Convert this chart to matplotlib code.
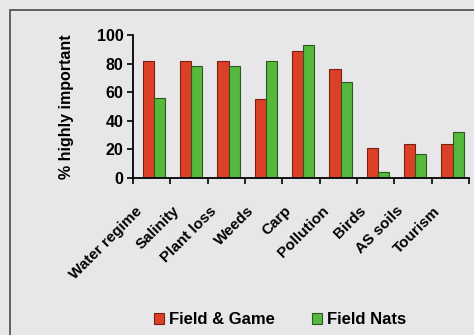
import matplotlib
matplotlib.use('Agg')
import matplotlib.pyplot as plt
import matplotlib.transforms as mtransforms
import numpy as np
from matplotlib.patches import Rectangle

# values
categories = ["Water regime", "Salinity", "Plant loss", "Weeds", "Carp",
              "Pollution", "Birds", "AS soils", "Tourism"]
field_game = [82, 82, 82, 55, 89, 76, 21, 24, 24]
field_nats = [56, 78, 78, 82, 93, 67, 4, 17, 32]
y_ticks = [0, 20, 40, 60, 80, 100]

plt.rcParams['font.family'] = ['Liberation Sans', 'DejaVu Sans']
plt.rcParams['font.weight'] = 'bold'
plt.rcParams['axes.labelweight'] = 'bold'

bg = '#e7e7ea'
fig = plt.figure(figsize=(4.74, 3.35), dpi=100, facecolor=bg)
# outer frame of the pasted chart
fig.patches.append(Rectangle((10/474, -0.1), 1.2, 1 - 10/335 + 0.1,
                             transform=fig.transFigure, fill=False,
                             edgecolor='#4a4a4a', linewidth=1.2))

ax = fig.add_axes([133/474, 1 - 178/335, 336/474, 143/335])
ax.set_facecolor(bg)

x = np.arange(len(categories))
w = 0.3
ax.bar(x - w/2 + 0.06, field_game, width=w, color='#dc4128',
       edgecolor='#7a2010', linewidth=0.8, label='Field & Game')
ax.bar(x + w/2 + 0.06, field_nats, width=w, color='#56b83c',
       edgecolor='#2a5a20', linewidth=0.8, label='Field Nats')

ax.set_xlim(-0.5, len(categories) - 0.5)
ax.set_ylim(0, 100)
ax.set_yticks(y_ticks)
ax.tick_params(axis='y', labelsize=11.5, direction='out', length=4, width=1.2, pad=3)
ax.set_xticks(x)
ax.set_xticklabels(categories, rotation=45, ha='right', rotation_mode='anchor',
                   fontsize=11)
ax.tick_params(axis='x', length=0, pad=10)
ax.set_xticks(np.arange(len(categories) + 1) - 0.5, minor=True)
ax.tick_params(axis='x', which='minor', direction='out', length=4, width=1.2)
shift = mtransforms.ScaledTranslation(-0.17, -0.12, fig.dpi_scale_trans)
for lab in ax.get_xticklabels():
    lab.set_transform(lab.get_transform() + shift)

for s in ['top', 'right']:
    ax.spines[s].set_visible(False)
for s in ['left', 'bottom']:
    ax.spines[s].set_linewidth(1.3)

ax.set_ylabel('% highly important', fontsize=11.5, labelpad=16)

fig.legend(loc='center', bbox_to_anchor=(280/474, 1 - 320/335), ncol=2,
           frameon=False, fontsize=12, handlelength=0.6, handleheight=0.6,
           columnspacing=2.2, handletextpad=0.3)

plt.savefig('out.png', dpi=100, facecolor=bg)
